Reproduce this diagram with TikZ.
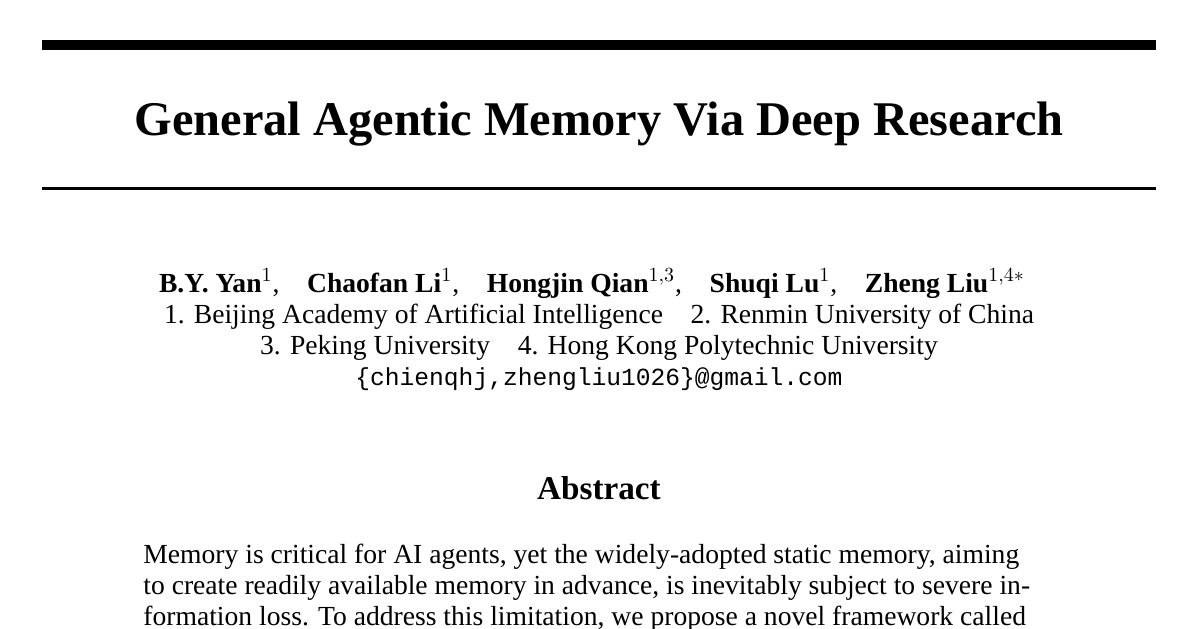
\documentclass[tikz,border=0pt]{standalone}
\usepackage{fontspec}
\setmainfont{Liberation Serif}
\setmonofont{Liberation Mono}
\begin{document}
\begin{tikzpicture}[x=0.5pt,y=-0.5pt,txt/.style={inner sep=0pt,anchor=base},
  body/.style={txt,font=\fontsize{13.8}{16}\selectfont}]
\useasboundingbox (0,0) rectangle (1200,628);
\clip (0,0) rectangle (1200,628);
\fill[black] (42,40) rectangle (1156,50);
\fill[black] (42,187) rectangle (1156,189.5);
\node[txt,font=\fontsize{24.2}{28}\bfseries] (title) at (599,135) {General Agentic Memory Via Deep Research};
\node[body] (auth) at (592,292) {\textbf{B.Y. Yan}$^1$,\quad \textbf{Chaofan Li}$^1$,\quad \textbf{Hongjin Qian}$^{1,3}$,\quad \textbf{Shuqi Lu}$^1$,\quad \textbf{Zheng Liu}$^{1,4*}$};
\node[body] (aff1) at (599,323) {1. Beijing Academy of Artificial Intelligence\enspace\enspace 2. Renmin University of China};
\node[body] (aff2) at (599,354) {3. Peking University\enspace\enspace 4. Hong Kong Polytechnic University};
\node[txt,font=\fontsize{12.3}{14}\ttfamily] (mail) at (599,385) {\{chienqhj,zhengliu1026\}@gmail.com};
\node[txt,font=\fontsize{16.6}{19}\bfseries] (abs) at (599,499) {Abstract};
\node[body,anchor=base west] (l1) at (143,563) {Memory is critical for AI agents, yet the widely-adopted static memory, aiming};
\node[body,anchor=base west] (l2) at (143,594) {to create readily available memory in advance, is inevitably subject to severe in-};
\node[body,anchor=base west] (l3) at (143,625) {formation loss. To address this limitation, we propose a novel framework called};
\end{tikzpicture}
\end{document}
